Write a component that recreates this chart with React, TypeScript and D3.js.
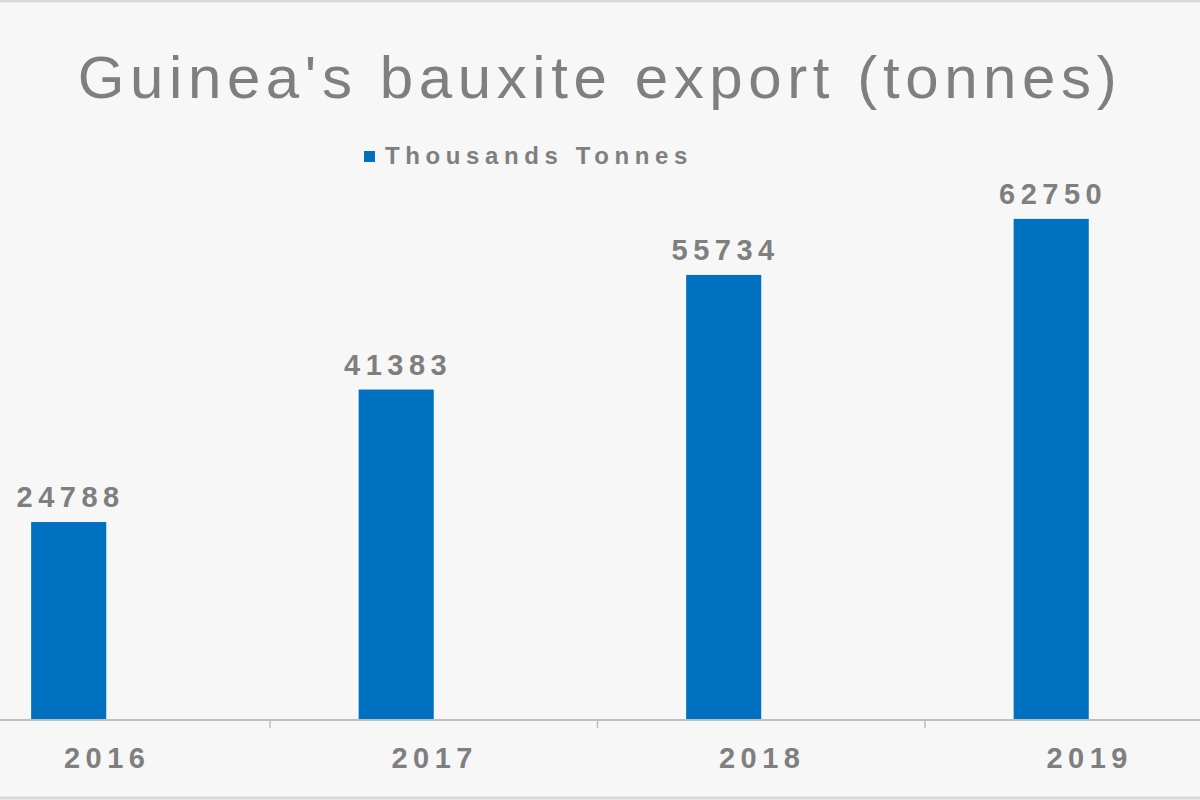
import * as d3 from "d3";
import React, { useEffect, useRef } from "react";

const years = ["2016", "2017", "2018", "2019"];
const exportValues = [24788, 41383, 55734, 62750];
const seriesNames = ["Thousands Tonnes", ""];
const titleText = "Guinea's bauxite export (tonnes)";

const BauxiteChart: React.FC = () => {
  const ref = useRef<SVGSVGElement>(null);

  useEffect(() => {
    if (!ref.current) return;
    const svg = d3.select(ref.current);
    svg.selectAll("*").remove();

    const width = 1200;
    const height = 800;
    const baseY = 720;
    const gray = "#7f7f7f";
    const blue = "#0070c0";

    // background + top/bottom frame lines
    svg.append("rect").attr("width", width).attr("height", height).attr("fill", "#f7f7f7");
    svg.append("line").attr("x1", 0).attr("x2", width).attr("y1", 1).attr("y2", 1)
      .attr("stroke", "#d9d9d9").attr("stroke-width", 3);
    svg.append("line").attr("x1", 0).attr("x2", width).attr("y1", 798).attr("y2", 798)
      .attr("stroke", "#d9d9d9").attr("stroke-width", 3);

    // category bands, first one starts off the left edge like the original
    const x = d3.scaleBand().domain(years).range([-57.5, 1252.5]).padding(0);
    // two series per category, second one empty
    const xInner = d3.scaleBand().domain(seriesNames).range([0, x.bandwidth()])
      .paddingInner(0).paddingOuter(1.18);
    const y = d3.scaleLinear().domain([0, 70000]).range([baseY, 161]);

    const data = years.map((yr, i) => ({ year: yr, value: exportValues[i] }));

    // title
    svg.append("text")
      .attr("x", 600)
      .attr("y", 98)
      .attr("text-anchor", "middle")
      .style("font-family", "Liberation Sans, Arial, sans-serif")
      .style("font-size", "60px")
      .style("letter-spacing", "5.6px")
      .attr("fill", gray)
      .text(titleText);

    // legend
    svg.append("rect").attr("x", 364).attr("y", 151).attr("width", 11).attr("height", 11).attr("fill", blue);
    svg.append("text")
      .attr("x", 385)
      .attr("y", 164)
      .style("font-family", "Liberation Sans, Arial, sans-serif")
      .style("font-size", "24px")
      .style("font-weight", "bold")
      .style("letter-spacing", "5.6px")
      .attr("fill", gray)
      .text(seriesNames[0]);

    // bars
    svg.append("g")
      .selectAll("rect")
      .data(data)
      .enter()
      .append("rect")
      .attr("x", (d) => x(d.year)! + xInner(seriesNames[0])!)
      .attr("y", (d) => y(d.value))
      .attr("width", xInner.bandwidth())
      .attr("height", (d) => baseY - y(d.value))
      .attr("fill", blue);

    // value labels
    svg.append("g")
      .selectAll("text")
      .data(data)
      .enter()
      .append("text")
      .attr("x", (d) => x(d.year)! + xInner(seriesNames[0])! + xInner.bandwidth() / 2 + 2)
      .attr("y", (d) => y(d.value) - 15)
      .attr("text-anchor", "middle")
      .style("font-family", "Liberation Sans, Arial, sans-serif")
      .style("font-size", "29px")
      .style("font-weight", "bold")
      .style("letter-spacing", "5.5px")
      .attr("fill", gray)
      .text((d) => d.value);

    // x axis
    const axis = svg.append("g").attr("transform", `translate(0,${baseY})`);
    axis.append("line").attr("x1", 0).attr("x2", width).attr("stroke", "#bfbfbf").attr("stroke-width", 2);
    axis.selectAll("line.tick")
      .data(years.slice(1))
      .enter()
      .append("line")
      .attr("class", "tick")
      .attr("x1", (d) => x(d)!)
      .attr("x2", (d) => x(d)!)
      .attr("y1", 0)
      .attr("y2", 8)
      .attr("stroke", "#bfbfbf")
      .attr("stroke-width", 1.5);
    axis.selectAll("text")
      .data(years)
      .enter()
      .append("text")
      .attr("x", (d) => x(d)! + x.bandwidth() / 2 + 1)
      .attr("y", 48)
      .attr("text-anchor", "middle")
      .style("font-family", "Liberation Sans, Arial, sans-serif")
      .style("font-size", "29px")
      .style("font-weight", "bold")
      .style("letter-spacing", "5.5px")
      .attr("fill", gray)
      .text((d) => d);
  }, []);

  return <svg ref={ref} width={1200} height={800} style={{ display: "block" }}></svg>;
};

export default function App() {
  useEffect(() => {
    document.body.style.margin = "0";
  }, []);
  return <BauxiteChart />;
}
